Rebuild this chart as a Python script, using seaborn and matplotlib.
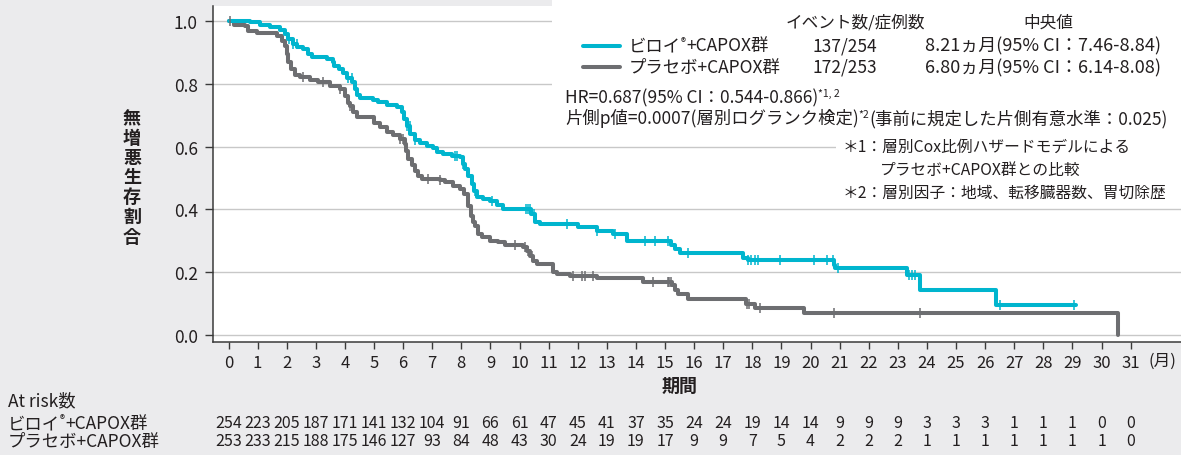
import numpy as np
import matplotlib
matplotlib.use("Agg")
import matplotlib.pyplot as plt
from matplotlib.lines import Line2D
from matplotlib.patches import Rectangle
from matplotlib.text import Annotation
from matplotlib.transforms import blended_transform_factory
import seaborn as sns

# ---------------- data ----------------
months = list(range(0, 32))

viloy_t = [0, 0.75, 1.08, 1.43, 1.77, 1.94, 2.05, 2.22, 2.35, 2.56, 2.73, 2.87, 3.38, 3.58,
           3.62, 3.78, 3.94, 4.08, 4.24, 4.33, 4.41, 4.52, 4.97, 5.14, 5.44, 5.78, 5.96, 6.04,
           6.12, 6.25, 6.41, 6.58, 6.82, 7.03, 7.15, 7.38, 7.67, 7.95, 8.05, 8.13, 8.24, 8.36,
           8.45, 8.53, 8.76, 8.99, 9.22, 9.44, 10.40, 10.52, 10.70, 12.02, 12.65, 13.22, 13.70,
           15.20, 15.35, 15.50, 17.68, 17.85, 20.80, 20.85, 23.30, 23.75, 26.39, 29.11]
viloy_s = [1.0, 0.996, 0.988, 0.980, 0.972, 0.960, 0.944, 0.928, 0.918, 0.911, 0.896, 0.886,
           0.879, 0.870, 0.858, 0.847, 0.834, 0.820, 0.805, 0.783, 0.764, 0.755, 0.749, 0.741,
           0.732, 0.725, 0.709, 0.688, 0.667, 0.640, 0.620, 0.611, 0.603, 0.595, 0.584, 0.578,
           0.571, 0.566, 0.545, 0.529, 0.507, 0.481, 0.460, 0.441, 0.433, 0.428, 0.415, 0.401,
           0.385, 0.360, 0.354, 0.343, 0.332, 0.322, 0.300, 0.288, 0.274, 0.262, 0.246, 0.238,
           0.223, 0.212, 0.191, 0.143, 0.095, 0.095]
viloy_cens = [2.09, 2.23, 2.34, 4.12, 4.23, 6.12, 6.24, 6.41, 7.78, 7.86, 8.07, 8.47, 9.04,
              10.21, 10.28, 10.36, 10.49, 11.62, 12.65, 13.28, 14.31, 14.66, 15.11, 15.80,
              17.85, 17.97, 18.08, 18.20, 18.95, 20.12, 20.58, 20.77, 20.93, 23.37, 23.48,
              23.60, 26.50, 29.05]

placebo_t = [0, 0.20, 0.55, 0.67, 0.97, 1.66, 1.83, 1.94, 2.00, 2.06, 2.14, 2.29, 2.46, 2.80,
             3.09, 3.49, 3.83, 4.00, 4.12, 4.18, 4.29, 4.41, 5.00, 5.20, 5.44, 5.66, 5.89, 6.05,
             6.10, 6.18, 6.29, 6.41, 6.52, 6.65, 7.27, 7.44, 7.73, 7.96, 8.10, 8.24, 8.32, 8.40,
             8.47, 8.58, 8.70, 8.99, 9.27, 9.50, 10.13, 10.25, 10.36, 10.47, 10.59, 11.15, 11.30,
             11.74, 12.65, 14.25, 15.25, 15.35, 15.46, 15.80, 17.79, 18.08, 19.77, 30.58]
placebo_s = [1.0, 0.987, 0.983, 0.969, 0.961, 0.953, 0.937, 0.921, 0.895, 0.868, 0.847, 0.828,
             0.821, 0.813, 0.805, 0.792, 0.783, 0.762, 0.740, 0.730, 0.709, 0.693, 0.675, 0.661,
             0.645, 0.636, 0.624, 0.608, 0.585, 0.560, 0.540, 0.522, 0.507, 0.498, 0.493, 0.486,
             0.476, 0.465, 0.449, 0.412, 0.380, 0.360, 0.348, 0.322, 0.311, 0.300, 0.295, 0.287,
             0.280, 0.268, 0.253, 0.237, 0.226, 0.200, 0.194, 0.189, 0.181, 0.170, 0.159, 0.143,
             0.130, 0.116, 0.100, 0.087, 0.070, 0.0]
placebo_cens = [0.05, 2.57, 3.26, 3.83, 4.18, 5.89, 6.00, 6.86, 7.27, 8.36, 9.85, 10.19, 10.30,
                10.42, 11.85, 12.14, 12.25, 12.54, 14.60, 15.10, 15.15, 15.20, 17.80, 17.90,
                18.26, 20.81, 23.77]

risk_viloy = [254, 223, 205, 187, 171, 141, 132, 104, 91, 66, 61, 47, 45, 41, 37, 35, 24, 24,
              19, 14, 14, 9, 9, 9, 3, 3, 3, 1, 1, 1, 0, 0]
risk_placebo = [253, 233, 215, 188, 175, 146, 127, 93, 84, 48, 43, 30, 24, 19, 19, 17, 9, 9, 7,
                5, 4, 2, 2, 2, 1, 1, 1, 1, 1, 1, 1, 0]

arm_label_main = ["ビロイ", "プラセボ+CAPOX群"]
events = ["137/254", "172/253"]
medians = ["8.21ヵ月(95% CI：7.46-8.84)", "6.80ヵ月(95% CI：6.14-8.08)"]

# ---------------- style ----------------
sns.set_style("white")
plt.rcParams["font.family"] = ["Noto Sans CJK JP", "DejaVu Sans"]

CYAN = "#00b5ce"
GRAY = "#6d6e71"
TXT = "#231f20"
BG = "#ebebed"

W, H = 1181, 456
fig = plt.figure(figsize=(W / 100, H / 100), dpi=100, facecolor=BG)

L, R, T, B = 213, 1181, 7, 343
ax = fig.add_axes([L / W, 1 - B / H, (R - L) / W, (B - T) / H])
ax.set_facecolor("white")


def fx(px):
    return px / W


def fy(py):
    return 1 - py / H


def step_at(ts, ss, c):
    ts = np.asarray(ts)
    idx = np.searchsorted(ts, c, side="right") - 1
    return np.asarray(ss)[idx]


# curves
for ts, ss, cens, col in [(placebo_t, placebo_s, placebo_cens, GRAY),
                          (viloy_t, viloy_s, viloy_cens, CYAN)]:
    sns.lineplot(x=ts, y=ss, drawstyle="steps-post", color=col, linewidth=2.9,
                 estimator=None, sort=False, ax=ax, zorder=3)
    cy = [step_at(ts, ss, c) for c in cens]
    sns.scatterplot(x=cens, y=cy, marker="|", s=60, color=col, linewidth=1.1,
                    ax=ax, zorder=4)

ax.set_xlim(-0.533, 32.73)
ax.set_ylim(-0.0223, 1.0478)
ax.set_xticks(months)
ax.set_xticklabels([str(m) for m in months])
ax.set_yticks([0.0, 0.2, 0.4, 0.6, 0.8, 1.0])
ax.set_yticklabels(["0.0", "0.2", "0.4", "0.6", "0.8", "1.0"])
ax.yaxis.grid(True, color="#c8c8c8", linewidth=1.0)
ax.xaxis.grid(False)
ax.set_axisbelow(True)
for sp in ["top", "right"]:
    ax.spines[sp].set_visible(False)
for sp in ["left", "bottom"]:
    ax.spines[sp].set_color("#3a3a3a")
    ax.spines[sp].set_linewidth(1.1)
ax.tick_params(axis="y", direction="out", length=6, width=1, color="#3a3a3a",
               labelsize=12.5, labelcolor=TXT, pad=5, left=True)
ax.tick_params(axis="x", direction="out", length=5, width=1, color="#3a3a3a",
               labelsize=12, labelcolor=TXT, pad=4, bottom=True)
ax.set_xlabel("")
ax.set_ylabel("")

# white boxes hiding gridlines behind legend / notes
ax.add_patch(Rectangle((fx(552), fy(132)), fx(W - 552), fy(0) - fy(132),
                       transform=fig.transFigure, facecolor="white", edgecolor="none",
                       zorder=1, clip_on=False))
ax.add_patch(Rectangle((fx(836), fy(202)), fx(W - 836), fy(132) - fy(202),
                       transform=fig.transFigure, facecolor="white", edgecolor="none",
                       zorder=1, clip_on=False))


def rich(xp, yp, parts, size, sup_size=None, color=TXT, family=None, weight="normal"):
    """parts: list of (text, is_superscript)"""
    sup_size = sup_size or size * 0.6
    fam = family or ["Noto Sans CJK JP", "DejaVu Sans"]
    first = fig.text(fx(xp), fy(yp), parts[0][0], fontsize=size, va="center", ha="left",
                     color=color, family=fam, weight=weight)
    base = first
    prev = first
    for txt, sup in parts[1:]:
        if sup:
            a = Annotation(txt, xy=(1, 0.42), xycoords=(prev, base), fontsize=sup_size,
                           va="bottom", ha="left", color=color, family=fam)
        else:
            a = Annotation(txt, xy=(1, 0), xycoords=(prev, base), fontsize=size,
                           va="bottom", ha="left", color=color, family=fam, weight=weight)
        fig.add_artist(a)
        prev = a
    return first


# legend block
fig.text(fx(786), fy(23), "イベント数/症例数", fontsize=12, va="center", ha="left", color=TXT)
fig.text(fx(1048), fy(23), "中央値", fontsize=12, va="center", ha="center", color=TXT)
rows_y = [46.5, 68]
for i, (col, yp) in enumerate(zip([CYAN, GRAY], rows_y)):
    fig.add_artist(Line2D([fx(583), fx(620)], [fy(yp), fy(yp)], color=col, linewidth=2.9,
                          transform=fig.transFigure))
    if i == 0:
        rich(629, yp, [(arm_label_main[0], False), ("®", True), ("+CAPOX群", False)], 12.5)
    else:
        rich(629, yp, [(arm_label_main[1], False)], 12.5)
    fig.text(fx(812), fy(yp), events[i], fontsize=12.5, va="center", ha="left", color=TXT)
    fig.text(fx(925), fy(yp), medians[i], fontsize=13, va="center", ha="left", color=TXT)

rich(565, 98, [("HR=0.687(95% CI：0.544-0.866)", False), ("*1, 2", True)], 12.5)
rich(565, 118.5, [("片側p値=0.0007(層別ログランク検定)", False), ("*2", True),
                  ("(事前に規定した片側有意水準：0.025)", False)], 12.5)
fig.text(fx(843), fy(147), "＊1：層別Cox比例ハザードモデルによる", fontsize=11.3, va="center",
         ha="left", color=TXT)
fig.text(fx(880), fy(170), "プラセボ+CAPOX群との比較", fontsize=11.3, va="center",
         ha="left", color=TXT)
fig.text(fx(843), fy(193), "＊2：層別因子：地域、転移臓器数、胃切除歴", fontsize=11.3, va="center",
         ha="left", color=TXT)

# axis labels
fig.text(fx(132), fy(178), "\n".join("無増悪生存割合"), fontsize=13, weight="bold",
         va="center", ha="center", color=TXT, linespacing=1.05)
fig.text(fx(1148), fy(361), "(月)", fontsize=12, va="center", ha="left", color=TXT)
fig.text(fx(680), fy(386), "期間", fontsize=13, weight="bold", va="center", ha="center",
         color=TXT)

# at-risk table
fig.text(fx(8), fy(401), "At risk数", fontsize=12.5, va="center", ha="left", color=TXT)
rich(8, 424, [(arm_label_main[0], False), ("®", True), ("+CAPOX群", False)], 12.5)
rich(8, 442, [(arm_label_main[1], False)], 12.5)
tr = blended_transform_factory(ax.transData, fig.transFigure)
num_fam = ["Liberation Sans Narrow", "Noto Sans CJK JP"]
for m, a, b in zip(months, risk_viloy, risk_placebo):
    ax.text(m, fy(424), str(a), transform=tr, fontsize=11.5, ha="center", va="center",
            color=TXT, family=num_fam, clip_on=False)
    ax.text(m, fy(442), str(b), transform=tr, fontsize=11.5, ha="center", va="center",
            color=TXT, family=num_fam, clip_on=False)

fig.savefig("out.png", dpi=100, facecolor=BG)
